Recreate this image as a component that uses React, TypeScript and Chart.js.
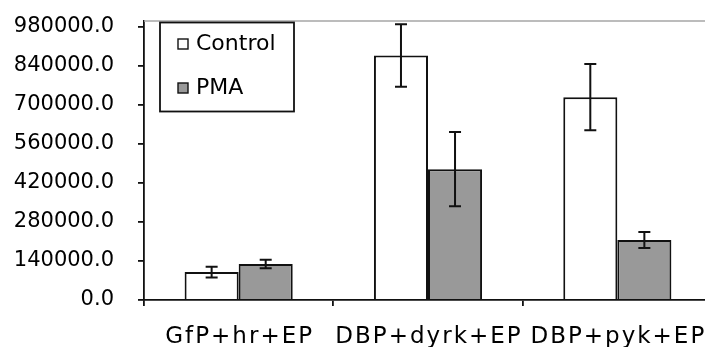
import React, { useEffect, useRef } from "react";
import { Chart, registerables } from "chart.js";

Chart.register(...registerables);

const categories = ["GfP+hr+EP", "DBP+dyrk+EP", "DBP+pyk+EP"];
const seriesNames = ["Control", "PMA"];
const controlValues = [100000, 876000, 727000];
const pmaValues = [129000, 469000, 215000];
const controlErrors = [19000, 112000, 119000];
const pmaErrors = [15500, 133000, 28500];
const yTickValues = [0, 140000, 280000, 420000, 560000, 700000, 840000, 980000];
const yMax = 1000000;

const FONT = '"DejaVu Sans", Verdana, sans-serif';

const errorBarPlugin = {
  id: "errorBars",
  afterDatasetsDraw(chart: any) {
    const ctx = chart.ctx;
    const yScale = chart.scales.y;
    chart.data.datasets.forEach((ds: any, i: number) => {
      const meta = chart.getDatasetMeta(i);
      const errs: number[] = ds.errors || [];
      meta.data.forEach((el: any, j: number) => {
        const v = ds.data[j];
        const e = errs[j];
        if (e == null) return;
        const x = el.x;
        const yt = yScale.getPixelForValue(v + e);
        const yb = yScale.getPixelForValue(v - e);
        ctx.save();
        ctx.strokeStyle = "#111";
        ctx.lineWidth = 2;
        ctx.beginPath();
        ctx.moveTo(x, yt);
        ctx.lineTo(x, yb);
        ctx.moveTo(x - 6, yt);
        ctx.lineTo(x + 6, yt);
        ctx.moveTo(x - 6, yb);
        ctx.lineTo(x + 6, yb);
        ctx.stroke();
        ctx.restore();
      });
    });
  },
};

const decorPlugin = {
  id: "decor",
  afterDraw(chart: any) {
    const ctx = chart.ctx;
    const area = chart.chartArea;
    const xScale = chart.scales.x;
    ctx.save();
    // top border
    ctx.strokeStyle = "#a6a6a6";
    ctx.lineWidth = 1.5;
    ctx.beginPath();
    ctx.moveTo(area.left, area.top);
    ctx.lineTo(area.right, area.top);
    ctx.stroke();

    // legend
    const lx = area.left + 16;
    const ly = area.top + 1.5;
    const lw = 134;
    const lh = 89;
    ctx.fillStyle = "#ffffff";
    ctx.fillRect(lx, ly, lw, lh);
    ctx.strokeStyle = "#111";
    ctx.lineWidth = 1.8;
    ctx.strokeRect(lx, ly, lw, lh);
    ctx.font = `22px ${FONT}`;
    ctx.textAlign = "left";
    ctx.textBaseline = "middle";
    chart.data.datasets.forEach((ds: any, i: number) => {
      const cy = ly + 21.5 + i * 44;
      ctx.fillStyle = ds.backgroundColor;
      ctx.fillRect(lx + 18, cy - 5, 10, 10);
      ctx.strokeStyle = "#111";
      ctx.lineWidth = 1.4;
      ctx.strokeRect(lx + 18, cy - 5, 10, 10);
      ctx.fillStyle = "#000";
      ctx.fillText(ds.label, lx + 36, cy + 0.5);
    });

    // category labels
    ctx.font = `23px ${FONT}`;
    (ctx as any).letterSpacing = "2px";
    ctx.textAlign = "center";
    ctx.textBaseline = "alphabetic";
    ctx.fillStyle = "#000";
    chart.data.labels.forEach((lab: string, j: number) => {
      const x = xScale.getPixelForValue(j);
      ctx.fillText(lab, x + 1, area.bottom + 42.5);
    });
    (ctx as any).letterSpacing = "0px";
    ctx.restore();
  },
};

export default function App() {
  const ref = useRef<HTMLCanvasElement>(null);
  useEffect(() => {
    if (!ref.current) return;
    const chart = new Chart(ref.current, {
      type: "bar",
      data: {
        labels: categories,
        datasets: [
          {
            label: seriesNames[0],
            data: controlValues,
            errors: controlErrors,
            backgroundColor: "#ffffff",
            borderColor: "#111",
            borderWidth: 2,
            categoryPercentage: 0.571,
            barPercentage: 1.0,
          } as any,
          {
            label: seriesNames[1],
            data: pmaValues,
            errors: pmaErrors,
            backgroundColor: "#999999",
            borderColor: "#111",
            borderWidth: 2,
            categoryPercentage: 0.571,
            barPercentage: 1.0,
          } as any,
        ],
      },
      options: {
        responsive: false,
        animation: false,
        devicePixelRatio: 1,
        layout: { padding: { top: 21, left: 0, right: 0, bottom: 0 } },
        plugins: {
          legend: { display: false },
          tooltip: { enabled: false },
        },
        scales: {
          x: {
            grid: {
              offset: true,
              drawOnChartArea: false,
              drawTicks: true,
              tickLength: 6,
              color: "#111",
              lineWidth: 1.8,
            },
            border: { color: "#111", width: 1.8 },
            ticks: { display: false },
            afterFit: (s: any) => {
              s.height = 47;
              s.paddingLeft = 0;
              s.paddingRight = 0;
            },
          },
          y: {
            min: 0,
            max: yMax,
            afterBuildTicks: (s: any) => {
              s.ticks = yTickValues.map((v) => ({ value: v }));
            },
            grid: {
              drawOnChartArea: false,
              drawTicks: true,
              tickLength: 6,
              color: "#111",
              lineWidth: 1.8,
            },
            border: { color: "#111", width: 1.8 },
            ticks: {
              padding: 24,
              color: "#000",
              font: { family: FONT, size: 21 },
              callback: (v: any) => Number(v).toFixed(1),
            },
            afterFit: (s: any) => {
              s.width = 144;
              s.paddingTop = 0;
              s.paddingBottom = 0;
            },
          },
        },
      },
      plugins: [errorBarPlugin, decorPlugin],
    });
    return () => chart.destroy();
  }, []);
  return (
    <div
      style={{
        position: "fixed",
        left: 0,
        top: 0,
        width: 705,
        height: 347,
        overflow: "hidden",
        background: "#fff",
      }}
    >
      <canvas ref={ref} width={712} height={347} style={{ width: 712, height: 347, display: "block" }} />
    </div>
  );
}
